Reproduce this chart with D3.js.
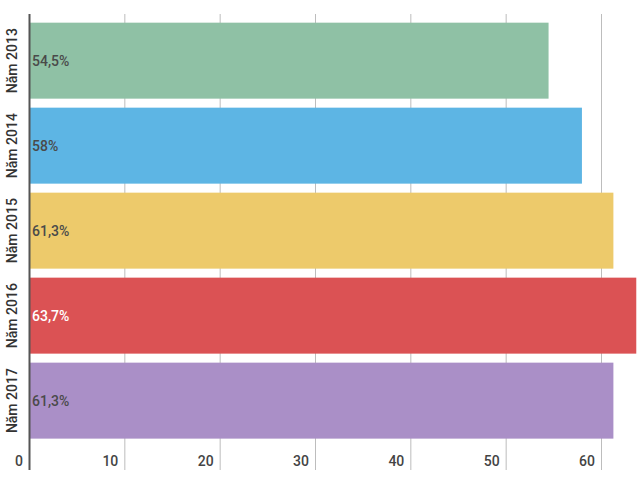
<!DOCTYPE html>
<html>
<head>
<meta charset="utf-8">
<script src="https://cdn.jsdelivr.net/npm/d3@7"></script>
<style>
  html, body { margin: 0; padding: 0; background: #fff; }
  svg { display: block; font-family: Roboto, "Noto Sans", sans-serif; }
</style>
</head>
<body>
<svg id="chart" width="640" height="482"></svg>
<script>
const categories = ["Năm 2013", "Năm 2014", "Năm 2015", "Năm 2016", "Năm 2017"];
const values = [54.5, 58, 61.3, 63.7, 61.3];
const valueLabels = ["54,5%", "58%", "61,3%", "63,7%", "61,3%"];
const colors = ["#8fc1a5", "#5db5e4", "#edca6b", "#db5254", "#aa8fc7"];
const labelColors = ["#4a4a4a", "#4a4a4a", "#4a4a4a", "#ffffff", "#4a4a4a"];
const tickValues = [0, 10, 20, 30, 40, 50, 60];

const svg = d3.select("#chart");

const x = d3.scaleLinear().domain([0, 60]).range([29, 601]);
const y = d3.scaleBand().domain(categories).range([14, 447.3]).paddingInner(0.106).paddingOuter(0.102);

// gridlines
svg.append("g").selectAll("line")
  .data(tickValues.filter(d => d > 0))
  .join("line")
  .attr("x1", d => x(d) + 0.5).attr("x2", d => x(d) + 0.5)
  .attr("y1", 14).attr("y2", 470)
  .attr("stroke", "#bdbdbd").attr("stroke-width", 1);

// bars
svg.append("g").selectAll("rect")
  .data(categories)
  .join("rect")
  .attr("x", x(0) + 1)
  .attr("y", d => y(d))
  .attr("width", (d, i) => x(values[i]) - x(0) - 1)
  .attr("height", y.bandwidth())
  .attr("fill", (d, i) => colors[i]);

// axis line
svg.append("line")
  .attr("x1", 29.5).attr("x2", 29.5)
  .attr("y1", 14).attr("y2", 470)
  .attr("stroke", "#555").attr("stroke-width", 2);

// bar labels
svg.append("g").selectAll("text")
  .data(categories)
  .join("text")
  .attr("x", 32)
  .attr("y", d => y(d) + y.bandwidth() / 2)
  .attr("dy", "0.35em")
  .attr("font-size", 14)
  .attr("font-weight", 500)
  .attr("fill", (d, i) => labelColors[i])
  .text((d, i) => valueLabels[i]);

// category labels (rotated)
svg.append("g").selectAll("text")
  .data(categories)
  .join("text")
  .attr("transform", d => `translate(17,${y(d) + y.bandwidth() / 2}) rotate(-90)`)
  .attr("text-anchor", "middle")
  .attr("font-size", 14)
  .attr("font-weight", 500)
  .attr("fill", "#333")
  .text(d => d);

// tick labels
svg.append("g").selectAll("text")
  .data(tickValues)
  .join("text")
  .attr("x", d => x(d) - 6)
  .attr("y", 466)
  .attr("text-anchor", "end")
  .attr("font-size", 14)
  .attr("font-weight", 500)
  .attr("fill", "#444")
  .text(d => d);
</script>
</body>
</html>
